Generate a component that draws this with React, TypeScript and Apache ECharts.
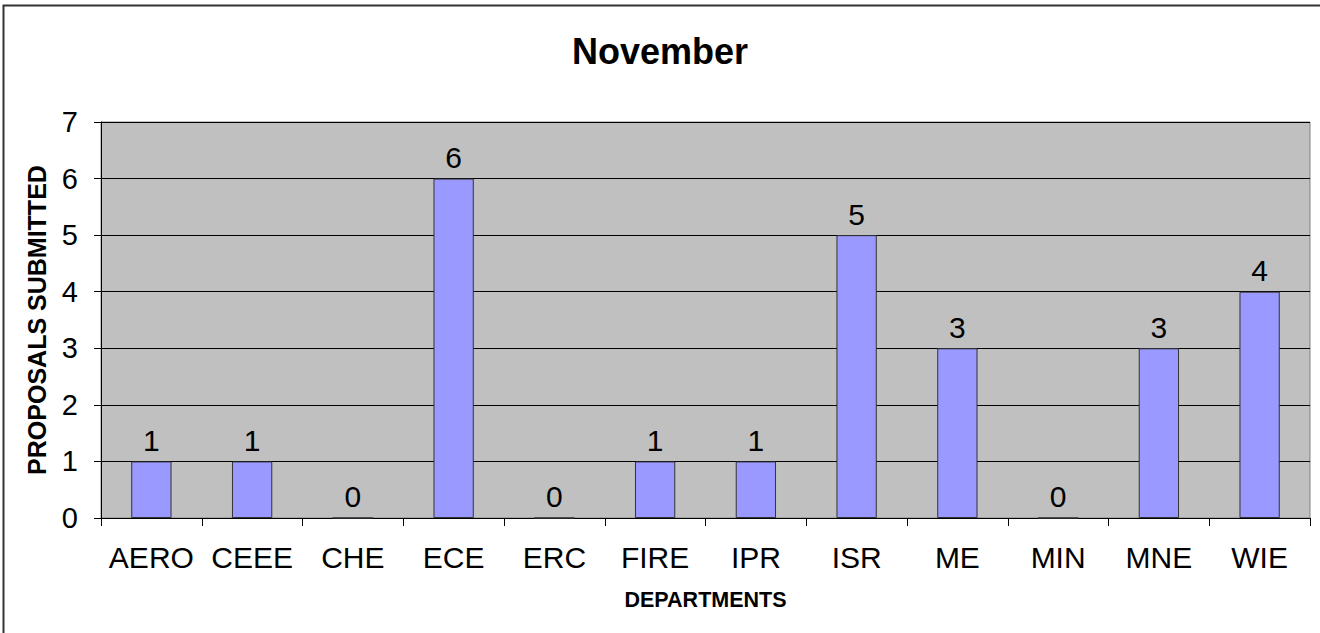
import React, { useEffect, useRef } from "react";
import * as echarts from "echarts";

const title = "November";
const categories = ["AERO", "CEEE", "CHE", "ECE", "ERC", "FIRE", "IPR", "ISR", "ME", "MIN", "MNE", "WIE"];
const proposals = [1, 1, 0, 6, 0, 1, 1, 5, 3, 0, 3, 4];
const yAxisName = "PROPOSALS SUBMITTED";
const xAxisName = "DEPARTMENTS";

const FONT = "Liberation Sans, Arial, sans-serif";

export default function App() {
  const ref = useRef<HTMLDivElement>(null);
  useEffect(() => {
    const chart = echarts.init(ref.current!, null, { renderer: "svg" });
    chart.setOption({
      animation: false,
      backgroundColor: "#ffffff",
      title: {
        text: title,
        left: "center",
        top: 28,
        textStyle: { fontFamily: FONT, fontSize: 36, fontWeight: "bold", color: "#000" },
      },
      graphic: [
        {
          type: "rect",
          shape: { x: 3.5, y: 5.5, width: 1330, height: 640 },
          style: { fill: "none", stroke: "#333", lineWidth: 2 },
          silent: true,
        },
      ],
      grid: {
        left: 101,
        right: 10,
        top: 122,
        bottom: 115,
        show: true,
        backgroundColor: "#c0c0c0",
        borderColor: "#808080",
        borderWidth: 1,
      },
      xAxis: {
        type: "category",
        data: categories,
        name: xAxisName,
        nameLocation: "middle",
        nameGap: 71,
        nameTextStyle: { fontFamily: FONT, fontSize: 21.5, fontWeight: "bold", color: "#000" },
        axisLine: { show: true, lineStyle: { color: "#000", width: 1 } },
        axisTick: { show: true, length: 8, lineStyle: { color: "#000" }, alignWithLabel: false },
        axisLabel: { fontFamily: FONT, fontSize: 30, color: "#000", margin: 24, interval: 0 },
        splitLine: { show: false },
      },
      yAxis: {
        type: "value",
        min: 0,
        max: 7,
        interval: 1,
        name: yAxisName,
        nameLocation: "middle",
        nameGap: 52,
        nameRotate: 90,
        nameTextStyle: { fontFamily: FONT, fontSize: 25, fontWeight: "bold", color: "#000" },
        axisLine: { show: true, lineStyle: { color: "#000", width: 1 } },
        axisTick: { show: true, length: 7, lineStyle: { color: "#000" } },
        axisLabel: { fontFamily: FONT, fontSize: 29, color: "#000", margin: 23 },
        splitLine: { show: true, lineStyle: { color: "#000", width: 1 } },
      },
      series: [
        {
          type: "bar",
          data: proposals,
          barWidth: "40%",
          itemStyle: { color: "#9999ff", borderColor: "#333", borderWidth: 1 },
          label: {
            show: true,
            position: "top",
            distance: 6,
            fontFamily: FONT,
            fontSize: 30,
            color: "#000",
          },
        },
      ],
    });
    return () => chart.dispose();
  }, []);
  return (
    <div
      ref={ref}
      style={{ position: "absolute", left: 0, top: 0, width: 1320, height: 633 }}
    />
  );
}
